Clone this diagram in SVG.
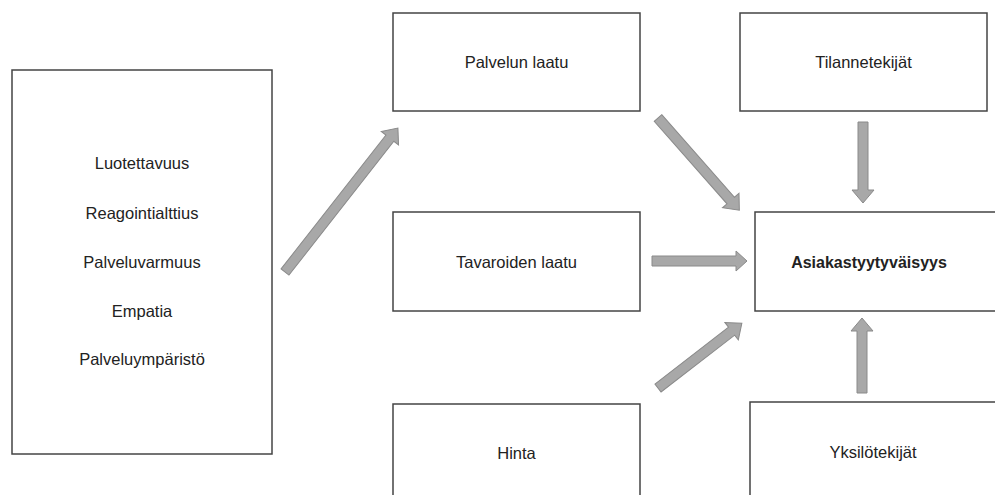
<svg xmlns="http://www.w3.org/2000/svg" width="995" height="495" viewBox="0 0 995 495">
<style>
.box{fill:#fff;stroke:#444;stroke-width:1.5}
.t{font-family:"Liberation Sans",Arial,sans-serif;font-size:16.5px;fill:#222;text-anchor:middle}
.b{font-weight:bold;font-size:16px}
.arr{fill:#a8a8a8;stroke:#8a8a8a;stroke-width:1}
</style>
<rect width="995" height="495" fill="#fff"/>
<g id="connectors">
<path class="arr" transform="translate(285,272) rotate(-51.9)" d="M0,-5 H170 V-11 L183,0 L170,11 V5 H0 Z"/>
<path class="arr" transform="translate(658,118) rotate(48.6)" d="M0,-5 H110 V-11 L123,0 L110,11 V5 H0 Z"/>
<path class="arr" transform="translate(652,261)" d="M0,-5 H84 V-10 L95,0 L84,10 V5 H0 Z"/>
<path class="arr" transform="translate(658,388) rotate(-37.7)" d="M0,-5 H93 V-11 L106,0 L93,11 V5 H0 Z"/>
<path class="arr" transform="translate(863,122) rotate(90)" d="M0,-5 H68 V-11 L81,0 L68,11 V5 H0 Z"/>
<path class="arr" transform="translate(862,393) rotate(-90)" d="M0,-5 H62 V-11 L75,0 L62,11 V5 H0 Z"/>
</g>
<g id="dimensions">
<rect class="box" x="12" y="70" width="260" height="384"/>
<text class="t" x="142" y="169">Luotettavuus</text>
<text class="t" x="142" y="219">Reagointialttius</text>
<text class="t" x="142" y="268">Palveluvarmuus</text>
<text class="t" x="142" y="317">Empatia</text>
<text class="t" x="142" y="365">Palveluympäristö</text>
</g>
<g id="palvelun-laatu">
<rect class="box" x="393" y="13" width="247" height="98"/>
<text class="t" x="516.5" y="68">Palvelun laatu</text>
</g>
<g id="tavaroiden-laatu">
<rect class="box" x="393" y="212" width="247" height="99"/>
<text class="t" x="516.5" y="268">Tavaroiden laatu</text>
</g>
<g id="hinta">
<rect class="box" x="393" y="404" width="247" height="98"/>
<text class="t" x="516.5" y="459">Hinta</text>
</g>
<g id="tilannetekijat">
<rect class="box" x="740" y="13" width="247" height="98"/>
<text class="t" x="863.5" y="68">Tilannetekijät</text>
</g>
<g id="asiakastyytyvaisyys">
<rect class="box" x="755" y="212" width="260" height="99"/>
<text class="t b" x="869" y="268">Asiakastyytyväisyys</text>
</g>
<g id="yksilotekijat">
<rect class="box" x="750" y="402" width="260" height="100"/>
<text class="t" x="873" y="458">Yksilötekijät</text>
</g>
</svg>
